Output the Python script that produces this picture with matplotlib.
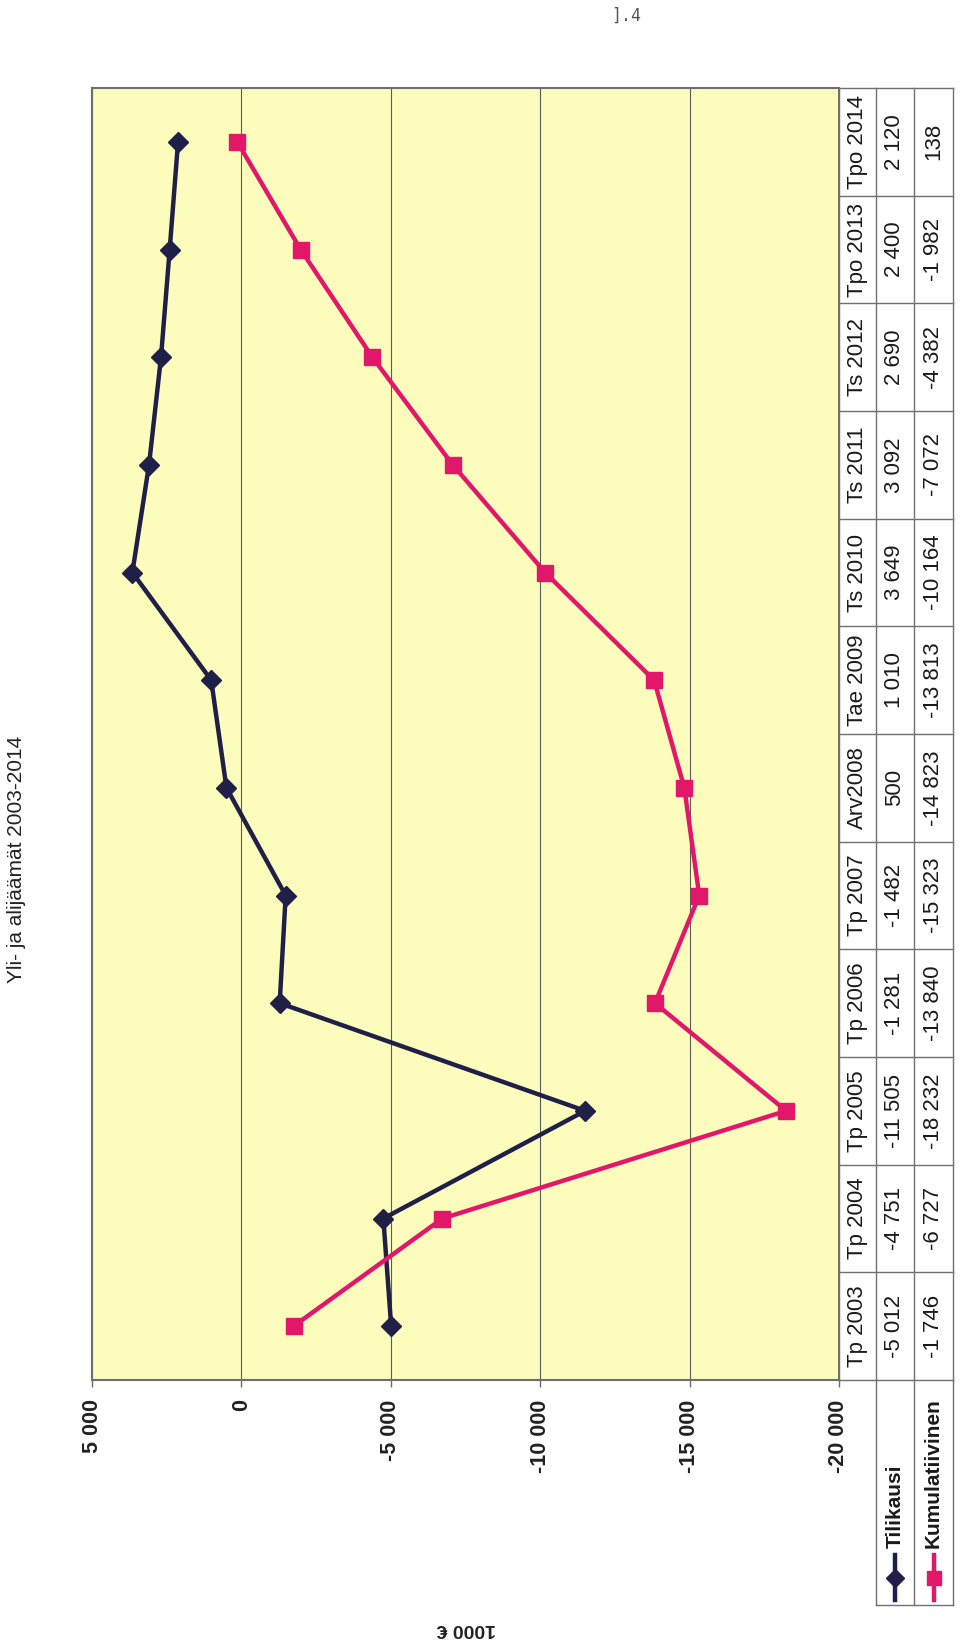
import matplotlib
matplotlib.use('Agg')
import matplotlib.pyplot as plt
from matplotlib.lines import Line2D

plt.rcParams['font.family'] = ['Liberation Sans', 'DejaVu Sans']

# data (1000 €)
categories = ['Tp 2003', 'Tp 2004', 'Tp 2005', 'Tp 2006', 'Tp 2007', 'Arv2008',
              'Tae 2009', 'Ts 2010', 'Ts 2011', 'Ts 2012', 'Tpo 2013', 'Tpo 2014']
tilikausi = [-5012, -4751, -11505, -1281, -1482, 500, 1010, 3649, 3092, 2690, 2400, 2120]
kumulatiivinen = [-1746, -6727, -18232, -13840, -15323, -14823, -13813, -10164,
                  -7072, -4382, -1982, 138]
value_ticks = [5000, 0, -5000, -10000, -15000, -20000]

NAVY = '#1f1f47'
PINK = '#e3176a'
GRID = '#5c5c5c'
EDGE = '#6e6e6e'


def fmt(v):
    return f'{v:,}'.replace(',', ' ')


W, H = 960, 1643
fig = plt.figure(figsize=(W / 100, H / 100), dpi=100)

# plot area in pixels (page is rotated: values run right->left, categories bottom->top)
px_l, px_r, px_t, px_b = 92, 839, 88, 1380
tab_r = 953
col_edges = [839, 876, 914, 953]

ax = fig.add_axes([px_l / W, 1 - px_b / H, (px_r - px_l) / W, (px_b - px_t) / H])
ax.set_facecolor('#fcfcbd')
ypos = list(range(len(categories)))
ax.plot(tilikausi, ypos, color=NAVY, lw=3.2, marker='D', ms=10, zorder=3)
ax.plot(kumulatiivinen, ypos, color=PINK, lw=3.2, marker='s', ms=12, zorder=3)
ax.set_xlim(5000, -20000)
ax.set_ylim(-0.5, len(categories) - 0.5)
ax.set_xticks(value_ticks)
ax.set_xticklabels([fmt(v) for v in value_ticks], rotation=90, fontsize=15.5,
                   fontweight='bold', color='#222222')
ax.tick_params(axis='x', direction='out', length=5, width=1, color=EDGE, pad=9)
ax.set_yticks([])
ax.grid(axis='x', color=GRID, lw=0.8)
for s in ['left', 'top', 'bottom']:
    ax.spines[s].set_color(EDGE)
    ax.spines[s].set_linewidth(1.5)
ax.spines['right'].set_color('#555555')
ax.spines['right'].set_linewidth(1.2)

# data table to the right, sharing the category scale
tab = fig.add_axes([px_r / W, 1 - px_b / H, (tab_r - px_r) / W, (px_b - px_t) / H],
                   sharey=ax)
tab.set_xlim(px_r, tab_r)
tab.axis('off')
for k in range(len(categories) + 1):
    tab.plot([px_r, tab_r], [k - 0.5, k - 0.5], color='#707070', lw=1, clip_on=False)
for x in col_edges:
    tab.plot([x, x], [-0.5, len(categories) - 0.5], color='#707070', lw=1, clip_on=False)
centers = [(col_edges[i] + col_edges[i + 1]) / 2 for i in range(3)]
for i, cat in enumerate(categories):
    tab.text(centers[0], i, cat, rotation=90, ha='center', va='center', fontsize=16,
             color='#1a1a1a')
    tab.text(centers[1], i, fmt(tilikausi[i]), rotation=90, ha='center', va='center',
             fontsize=16, color='#1a1a1a')
    tab.text(centers[2], i, fmt(kumulatiivinen[i]), rotation=90, ha='center',
             va='center', fontsize=16, color='#1a1a1a')

# overlay in page pixels for legend keys and loose text
ov = fig.add_axes([0, 0, 1, 1])
ov.set_xlim(0, W)
ov.set_ylim(H, 0)
ov.axis('off')
leg_b = 1605
for x in col_edges[1:]:
    ov.add_line(Line2D([x, x], [px_b, leg_b], color='#707070', lw=1))
ov.add_line(Line2D([col_edges[1], col_edges[3]], [leg_b, leg_b], color='#707070', lw=1))
for cx, name, col, mk, ms in [(centers[1], 'Tilikausi', NAVY, 'D', 9),
                               (centers[2], 'Kumulatiivinen', PINK, 's', 10)]:
    ov.plot([cx, cx], [1555, 1600], color=col, lw=3.2)
    ov.plot([cx], [1578], color=col, marker=mk, ms=ms)
    ov.text(cx, 1548, name, rotation=90, ha='center', va='bottom', fontsize=15,
            fontweight='bold', color='#1a1a1a')

fig.text(17 / W, 1 - 859 / H, 'Yli- ja alijäämät 2003-2014', rotation=90,
         ha='center', va='center', fontsize=15, color='#222222')
fig.text(466 / W, 1 - 1628 / H, '1000 €', rotation=180, ha='center', va='center',
         fontsize=14, fontweight='bold', color='#222222')
fig.text(626 / W, 1 - 16 / H, '].4', ha='center', va='center', fontsize=12,
         family='DejaVu Sans Mono', color='#555555')

fig.savefig('out.png', dpi=100)
